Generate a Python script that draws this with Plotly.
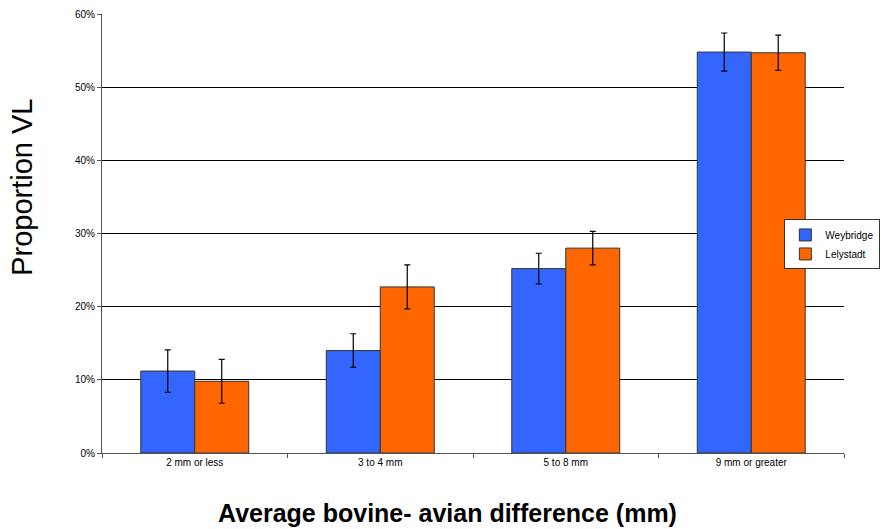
import plotly.graph_objects as go

categories = ["2 mm or less", "3 to 4 mm", "5 to 8 mm", "9 mm or greater"]
weybridge = [11.2, 14.0, 25.2, 54.8]
weybridge_err = [2.9, 2.3, 2.1, 2.6]
lelystadt = [9.8, 22.7, 28.0, 54.7]
lelystadt_err = [3.0, 3.0, 2.3, 2.4]
y_ticks = [0, 10, 20, 30, 40, 50, 60]
y_tick_labels = ["0%", "10%", "20%", "30%", "40%", "50%", "60%"]

font = "Liberation Sans, Arial, sans-serif"

fig = go.Figure()
fig.add_trace(go.Bar(
    name="Weybridge", x=categories, y=weybridge,
    marker=dict(color="#3366FF", line=dict(color="#333333", width=1)),
    error_y=dict(type="data", array=weybridge_err, color="black", thickness=1.2, width=3),
))
fig.add_trace(go.Bar(
    name="Lelystadt", x=categories, y=lelystadt,
    marker=dict(color="#FF6600", line=dict(color="#333333", width=1)),
    error_y=dict(type="data", array=lelystadt_err, color="black", thickness=1.2, width=3),
))

fig.update_layout(
    width=882, height=529,
    margin=dict(l=102, r=38, t=14, b=76, autoexpand=False),
    paper_bgcolor="white", plot_bgcolor="white",
    barmode="group", bargap=0.418, bargroupgap=0,
    font=dict(family=font, color="black"),
    showlegend=True,
    legend=dict(
        x=1.049, y=0.532, xanchor="right", yanchor="top",
        bgcolor="white", bordercolor="#333333", borderwidth=1,
        font=dict(size=10, family=font), tracegroupgap=0,
        itemwidth=30,
    ),
    xaxis=dict(
        showline=True, linecolor="#555555", linewidth=1,
        ticks="outside", ticklen=4, tickcolor="#555555", tickson="boundaries",
        tickfont=dict(size=10, family=font),
        showgrid=False,
    ),
    yaxis=dict(
        range=[0, 60], tickvals=y_ticks, ticktext=y_tick_labels,
        showline=True, linecolor="#555555", linewidth=1,
        ticks="outside", ticklen=4, tickcolor="#555555",
        tickfont=dict(size=10, family=font),
        showgrid=True, gridcolor="black", gridwidth=1,
        zeroline=False,
    ),
    annotations=[
        dict(text="Proportion VL", textangle=-90, xref="paper", yref="paper",
             x=-0.108, y=0.606, xanchor="center", yanchor="middle",
             showarrow=False, font=dict(size=29, family=font)),
        dict(text="<b>Average bovine- avian difference (mm)</b>", xref="paper", yref="paper",
             x=0.465, y=-0.137, xanchor="center", yanchor="middle",
             showarrow=False, font=dict(size=25, family=font)),
    ],
)

fig.write_html("out.html")
